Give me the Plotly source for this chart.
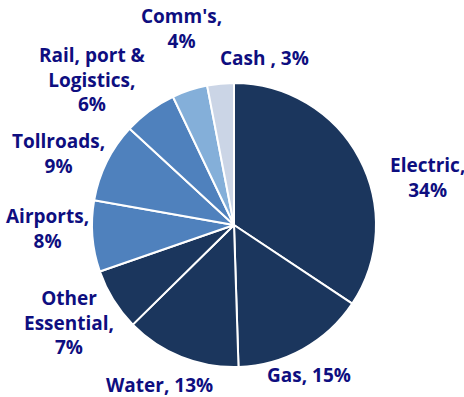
import plotly.graph_objects as go

categories = ["Electric", "Gas", "Water", "Other<br>Essential", "Airports",
              "Tollroads", "Rail, port &<br>Logistics", "Comm's", "Cash "]
values = [34, 15, 13, 7, 8, 9, 6, 4, 3]
label_sep = ["<br>", " ", " ", "<br>", "<br>", "<br>", "<br>", "<br>", " "]
colors = ["#1b365d", "#1b365d", "#1b365d", "#1b365d", "#4f81bd",
          "#4f81bd", "#4f81bd", "#84afd9", "#cbd5e6"]
# label centre positions in pixels (x from left, y from top)
label_px = [(427, 177), (309, 375), (159, 385), (69, 322), (47, 229),
            (58, 153), (92, 80), (181, 29), (264, 58)]

W, H = 464, 397
texts = [f"{c},{s}{v}%" for c, s, v in zip(categories, label_sep, values)]

fig = go.Figure(go.Pie(
    labels=[c.replace("<br>", " ") for c in categories],
    values=values,
    textinfo="none",
    sort=False,
    direction="clockwise",
    rotation=0,
    marker=dict(colors=colors, line=dict(color="white", width=2)),
    domain=dict(x=[92 / W, 376 / W], y=[(H - 367) / H, (H - 83) / H]),
    showlegend=False,
    hoverinfo="label+value",
))
for t, (px, py) in zip(texts, label_px):
    fig.add_annotation(
        x=px / W, y=1 - py / H, xref="paper", yref="paper",
        text=t, showarrow=False, xanchor="center", yanchor="middle",
        align="center",
        font=dict(family="Open Sans", size=19, color="#0e0e80", weight="bold"),
    )
fig.update_layout(
    width=W, height=H,
    margin=dict(l=0, r=0, t=0, b=0),
    paper_bgcolor="white",
    plot_bgcolor="white",
)
fig.write_html("out.html")
